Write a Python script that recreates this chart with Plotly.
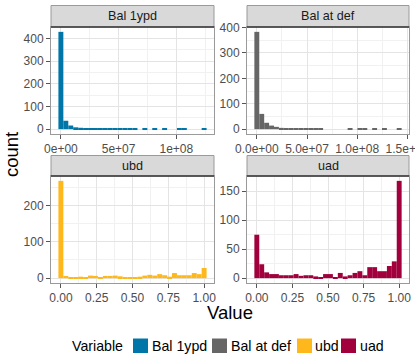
import plotly.graph_objects as go

# ---------------- data ----------------
variables = ["Bal 1ypd", "Bal at def", "ubd", "uad"]

# histogram bin counts (30 bins each, ggplot2 default)
bal1ypd_counts = [429, 37, 16, 8, 6, 4, 3, 3, 2, 2, 1, 1, 1, 1, 2,
                  1, 0, 1, 0, 1, 0, 1, 0, 0, 1, 1, 0, 0, 0, 1]
balatdef_counts = [383, 60, 25, 14, 9, 5, 4, 3, 2, 2, 1, 2, 1, 1, 0,
                   0, 0, 0, 0, 1, 0, 1, 1, 0, 1, 0, 1, 0, 0, 1]
ubd_counts = [268, 6, 3, 1, 4, 3, 7, 6, 3, 6, 6, 7, 5, 3, 2,
              2, 4, 7, 9, 7, 11, 8, 4, 14, 8, 8, 8, 14, 11, 28]
uad_counts = [75, 24, 10, 7, 7, 5, 5, 5, 7, 4, 5, 5, 3, 2, 7,
              7, 1, 9, 3, 5, 9, 12, 5, 19, 19, 12, 12, 21, 29, 168]

# data range (min, max) of each variable
bal1ypd_range = (0.0, 1.241e8)
balatdef_range = (0.0, 1.418e8)
ubd_range = (0.0, 1.0)
uad_range = (0.0, 1.0)

# axis ticks
money1_ticks = [0, 5e7, 1e8]
money1_labels = ["0e+00", "5e+07", "1e+08"]
money2_ticks = [0, 5e7, 1e8, 1.5e8]
money2_labels = ["0.0e+00", "5.0e+07", "1.0e+08", "1.5e+08"]
unit_ticks = [0, 0.25, 0.5, 0.75, 1.0]
unit_labels = ["0.00", "0.25", "0.50", "0.75", "1.00"]
count_ticks_a = [0, 100, 200, 300, 400]
count_ticks_b = [0, 100, 200, 300, 400]
count_ticks_c = [0, 100, 200]
count_ticks_d = [0, 50, 100, 150]

# ---------------- styling ----------------
colors = ["#0075A8", "#666666", "#FFB81C", "#A1003C"]
W, H = 415, 354
FONT = "Arial, Liberation Sans, sans-serif"


def px_x(p):
    return p / W


def px_y(p):
    return 1 - p / H


# panel pixel boxes: (x0, x1, y_top, y_bottom, strip_top)
panels = [
    (51, 214, 27, 134, 5.5),
    (247, 409, 27, 134, 5.5),
    (51, 214, 176, 283, 155.5),
    (247, 409, 176, 283, 155.5),
]

all_counts = [bal1ypd_counts, balatdef_counts, ubd_counts, uad_counts]
all_ranges = [bal1ypd_range, balatdef_range, ubd_range, uad_range]
x_ticks = [(money1_ticks, money1_labels), (money2_ticks, money2_labels),
           (unit_ticks, unit_labels), (unit_ticks, unit_labels)]
y_ticks = [count_ticks_a, count_ticks_b, count_ticks_c, count_ticks_d]

fig = go.Figure()
shapes = []
annotations = []
layout_axes = {}


def minors(ticks, lo, hi):
    step = ticks[1] - ticks[0]
    vals = []
    v = ticks[0] - step / 2
    while v <= hi:
        if v >= lo:
            vals.append(v)
        v += step
    return vals


for i, (name, counts, rng, col) in enumerate(zip(variables, all_counts, all_ranges, colors)):
    nb = len(counts)
    lo, hi = rng
    bw = (hi - lo) / (nb - 1)
    centers = [lo + k * bw for k in range(nb)]
    xa = "x" if i == 0 else f"x{i+1}"
    ya = "y" if i == 0 else f"y{i+1}"
    fig.add_trace(go.Bar(
        x=centers, y=counts, width=bw, name=name,
        marker=dict(color=col, line=dict(width=0)),
        xaxis=xa, yaxis=ya, showlegend=False,
    ))
    x0p, x1p, ytp, ybp, stp = panels[i]
    ext = nb * bw
    xr = [lo - bw / 2 - 0.05 * ext, hi + bw / 2 + 0.05 * ext]
    ymax = max(counts)
    yr = [-0.05 * ymax, 1.05 * ymax]
    tv, tl = x_ticks[i]
    yt = y_ticks[i]
    common = dict(showline=True, mirror=True, linecolor="#9A9A9A", linewidth=1,
                  ticks="outside", ticklen=4, tickwidth=1, tickcolor="#555555",
                  showgrid=True, gridcolor="#E4E4E4", gridwidth=1,
                  zeroline=False, automargin=False, fixedrange=True,
                  ticklabeloverflow="allow",
                  tickfont=dict(family=FONT, size=12, color="#4D4D4D"))
    layout_axes["xaxis" if i == 0 else f"xaxis{i+1}"] = dict(
        common, domain=[px_x(x0p), px_x(x1p)], range=xr, anchor=ya,
        tickmode="array", tickvals=tv, ticktext=tl,
        minor=dict(tickvals=minors(tv, xr[0], xr[1]), showgrid=True,
                   gridcolor="#F1F1F1", gridwidth=1, ticks=""),
    )
    layout_axes["yaxis" if i == 0 else f"yaxis{i+1}"] = dict(
        common, domain=[px_y(ybp), px_y(ytp)], range=yr, anchor=xa,
        tickmode="array", tickvals=yt, ticktext=[str(v) for v in yt],
        minor=dict(tickvals=minors(yt, yr[0], yr[1]), showgrid=True,
                   gridcolor="#F1F1F1", gridwidth=1, ticks=""),
    )
    # strip
    shapes.append(dict(type="rect", xref="paper", yref="paper",
                       x0=px_x(x0p), x1=px_x(x1p), y0=px_y(ytp), y1=px_y(stp),
                       fillcolor="#D9D9D9", line=dict(color="#9A9A9A", width=1),
                       layer="above"))
    shapes.append(dict(type="line", xref="paper", yref="paper",
                       x0=px_x(x0p), x1=px_x(x1p), y0=px_y(ytp), y1=px_y(ytp),
                       line=dict(color="#333333", width=1.4), layer="above"))
    annotations.append(dict(text=name, xref="paper", yref="paper",
                            x=px_x((x0p + x1p) / 2), y=px_y((ytp + stp) / 2),
                            xanchor="center", yanchor="middle", showarrow=False,
                            font=dict(family=FONT, size=12.6, color="#1A1A1A")))

# axis titles
annotations.append(dict(text="count", xref="paper", yref="paper",
                        x=px_x(11), y=px_y(155), textangle=-90,
                        xanchor="center", yanchor="middle", showarrow=False,
                        font=dict(family=FONT, size=18.5, color="#000000")))
annotations.append(dict(text="Value", xref="paper", yref="paper",
                        x=px_x(230), y=px_y(312),
                        xanchor="center", yanchor="middle", showarrow=False,
                        font=dict(family=FONT, size=18.5, color="#000000")))

# legend (drawn manually to follow ggplot's compact layout)
leg_y = 345.5
annotations.append(dict(text="Variable", xref="paper", yref="paper",
                        x=px_x(71), y=px_y(leg_y), xanchor="left", yanchor="middle",
                        showarrow=False, borderpad=0,
                        font=dict(family=FONT, size=14.2, color="#000000")))
key_x = [133, 212, 297, 341]
text_x = [151, 230, 314, 359]
for name, col, kx, tx in zip(variables, colors, key_x, text_x):
    shapes.append(dict(type="rect", xref="paper", yref="paper",
                       x0=px_x(kx), x1=px_x(kx + 15), y0=px_y(353), y1=px_y(338.5),
                       fillcolor=col, line=dict(width=0)))
    annotations.append(dict(text=name, xref="paper", yref="paper",
                            x=px_x(tx), y=px_y(leg_y), xanchor="left", yanchor="middle",
                            showarrow=False, borderpad=0,
                            font=dict(family=FONT, size=14.2, color="#000000")))

fig.update_layout(
    width=W, height=H, margin=dict(l=0, r=0, t=0, b=0),
    paper_bgcolor="white", plot_bgcolor="white",
    barmode="overlay", showlegend=False,
    shapes=shapes, annotations=annotations,
    **layout_axes,
)

fig.write_html("out.html")
